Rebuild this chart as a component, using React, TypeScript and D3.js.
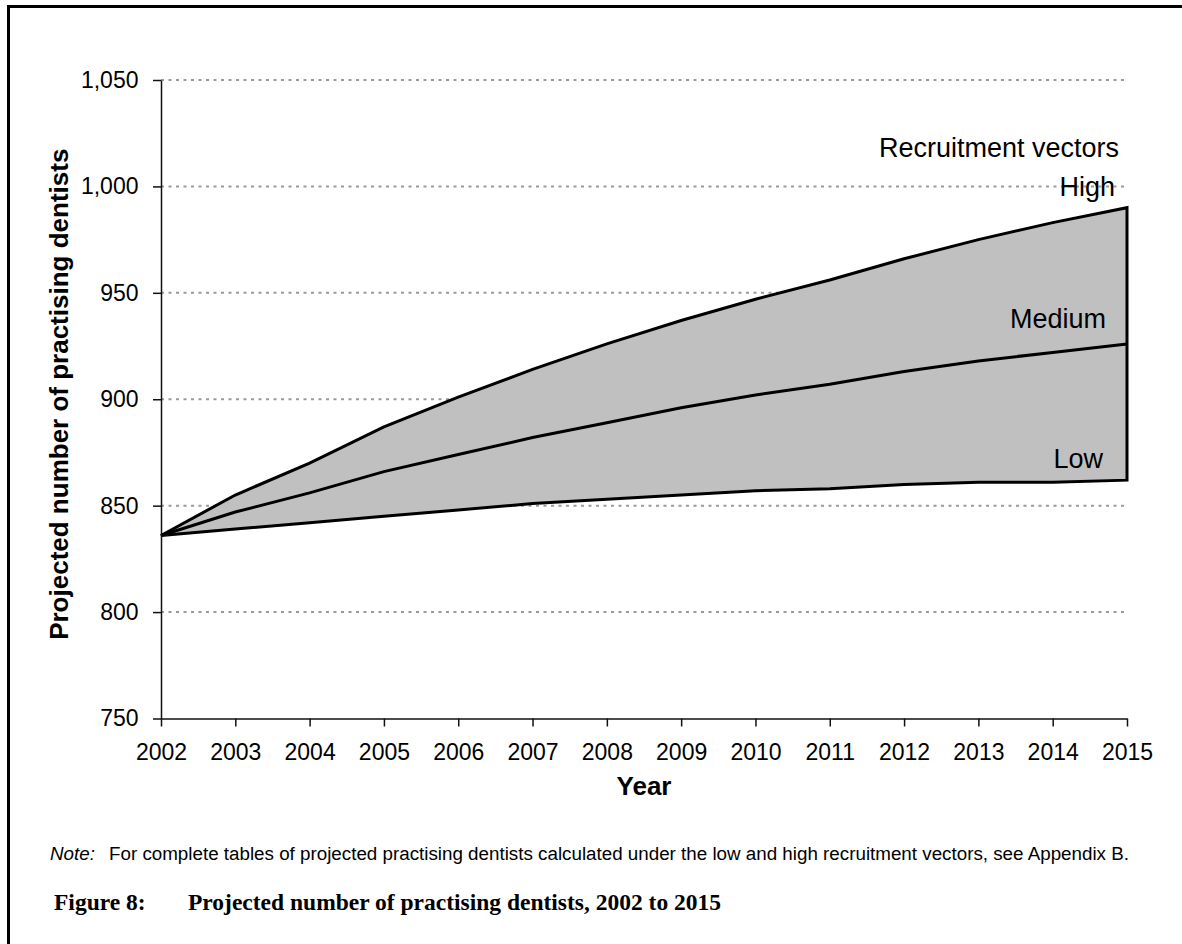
import { useEffect, useRef } from 'react';
import * as d3 from 'd3';

// Projected number of practising dentists by recruitment vector
const years = [2002, 2003, 2004, 2005, 2006, 2007, 2008, 2009, 2010, 2011, 2012, 2013, 2014, 2015];
const highValues = [836, 855, 870, 887, 901, 914, 926, 937, 947, 956, 966, 975, 983, 990];
const mediumValues = [836, 847, 856, 866, 874, 882, 889, 896, 902, 907, 913, 918, 922, 926];
const lowValues = [836, 839, 842, 845, 848, 851, 853, 855, 857, 858, 860, 861, 861, 862];
const yTicks = [750, 800, 850, 900, 950, 1000, 1050];

const W = 1182;
const H = 944;
const plot = { left: 161, right: 1127, top: 80, bottom: 718.5 };
const sans = '"Liberation Sans", Arial, sans-serif';
const serif = '"Liberation Serif", "Times New Roman", serif';

export default function App() {
    const svgRef = useRef<SVGSVGElement>(null);

    useEffect(() => {
        if (!svgRef.current) return;
        document.body.style.margin = '0';
        document.body.style.overflow = 'hidden';

        const svg = d3.select(svgRef.current);
        svg.selectAll('*').remove();

        const x = d3.scaleLinear().domain([2002, 2015]).range([plot.left, plot.right]);
        const y = d3.scaleLinear().domain([750, 1050]).range([plot.bottom, plot.top]);

        const rows = years.map((yr, i) => ({ year: yr, high: highValues[i], medium: mediumValues[i], low: lowValues[i] }));

        // outer frame (right and bottom edges fall outside the page)
        svg.append('path')
            .attr('d', `M8.5,${H} V6.5 H${W}`)
            .attr('fill', 'none')
            .attr('stroke', '#000')
            .attr('stroke-width', 3);

        // dotted gridlines
        svg.append('g')
            .selectAll('line')
            .data(yTicks.filter(t => t > 750))
            .join('line')
            .attr('x1', plot.left)
            .attr('x2', plot.right)
            .attr('y1', d => y(d))
            .attr('y2', d => y(d))
            .attr('stroke', '#999')
            .attr('stroke-width', 2)
            .attr('stroke-dasharray', '3 4.5');

        // band between low and high vectors
        const area = d3.area<typeof rows[0]>()
            .x(d => x(d.year))
            .y0(d => y(d.low))
            .y1(d => y(d.high));

        svg.append('path')
            .datum(rows)
            .attr('d', area(rows) + 'Z')
            .attr('fill', '#c0c0c0')
            .attr('stroke', '#000')
            .attr('stroke-width', 3)
            .attr('stroke-linejoin', 'miter');

        const line = d3.line<typeof rows[0]>()
            .x(d => x(d.year))
            .y(d => y(d.medium));

        svg.append('path')
            .datum(rows)
            .attr('d', line)
            .attr('fill', 'none')
            .attr('stroke', '#000')
            .attr('stroke-width', 3);

        // axes
        const yAxis = svg.append('g')
            .attr('transform', `translate(${plot.left},0)`)
            .call(d3.axisLeft(y).tickValues(yTicks).tickFormat(d3.format(',')).tickSize(8).tickSizeOuter(0).tickPadding(14.5));

        const xAxis = svg.append('g')
            .attr('transform', `translate(0,${plot.bottom})`)
            .call(d3.axisBottom(x).tickValues(years).tickFormat(d3.format('d')).tickSize(8).tickSizeOuter(0).tickPadding(17));

        [yAxis, xAxis].forEach(ax => {
            ax.select('.domain').attr('stroke', '#111').attr('stroke-width', 1.5);
            ax.selectAll('.tick line').attr('stroke', '#111').attr('stroke-width', 1.5);
            ax.selectAll('.tick text')
                .attr('fill', '#000')
                .style('font-family', sans)
                .style('font-size', '23px');
        });

        // axis titles
        svg.append('text')
            .attr('transform', `translate(68,${(plot.top + plot.bottom) / 2 - 5}) rotate(-90)`)
            .attr('text-anchor', 'middle')
            .style('font-family', sans)
            .style('font-size', '26px')
            .style('font-weight', 'bold')
            .text('Projected number of practising dentists');

        svg.append('text')
            .attr('x', (plot.left + plot.right) / 2)
            .attr('y', 795)
            .attr('text-anchor', 'middle')
            .style('font-family', sans)
            .style('font-size', '26px')
            .style('font-weight', 'bold')
            .text('Year');

        // series annotations
        const xEnd = x(2015);
        const annotations = [
            { label: 'Recruitment vectors', dx: -8, y: 157 },
            { label: 'High', dx: -12, y: 196 },
            { label: 'Medium', dx: -21, y: 328 },
            { label: 'Low', dx: -24, y: 468 },
        ];
        svg.append('g')
            .selectAll('text')
            .data(annotations)
            .join('text')
            .attr('x', d => xEnd + d.dx)
            .attr('y', d => d.y)
            .attr('text-anchor', 'end')
            .style('font-family', sans)
            .style('font-size', '27px')
            .text(d => d.label);

        // note and caption
        const note = svg.append('text')
            .attr('y', 860)
            .style('font-family', sans)
            .style('font-size', '18.8px');
        note.append('tspan').attr('x', 50).style('font-style', 'italic').text('Note:');
        note.append('tspan').attr('x', 109)
            .text('For complete tables of projected practising dentists calculated under the low and high recruitment vectors, see Appendix B.');

        const caption = svg.append('text')
            .attr('y', 910)
            .style('font-family', serif)
            .style('font-size', '23.5px')
            .style('font-weight', 'bold');
        caption.append('tspan').attr('x', 54).text('Figure 8:');
        caption.append('tspan').attr('x', 188).text('Projected number of practising dentists, 2002 to 2015');
    }, []);

    return <svg ref={svgRef} width={W} height={H} style={{ display: 'block' }} />;
}
